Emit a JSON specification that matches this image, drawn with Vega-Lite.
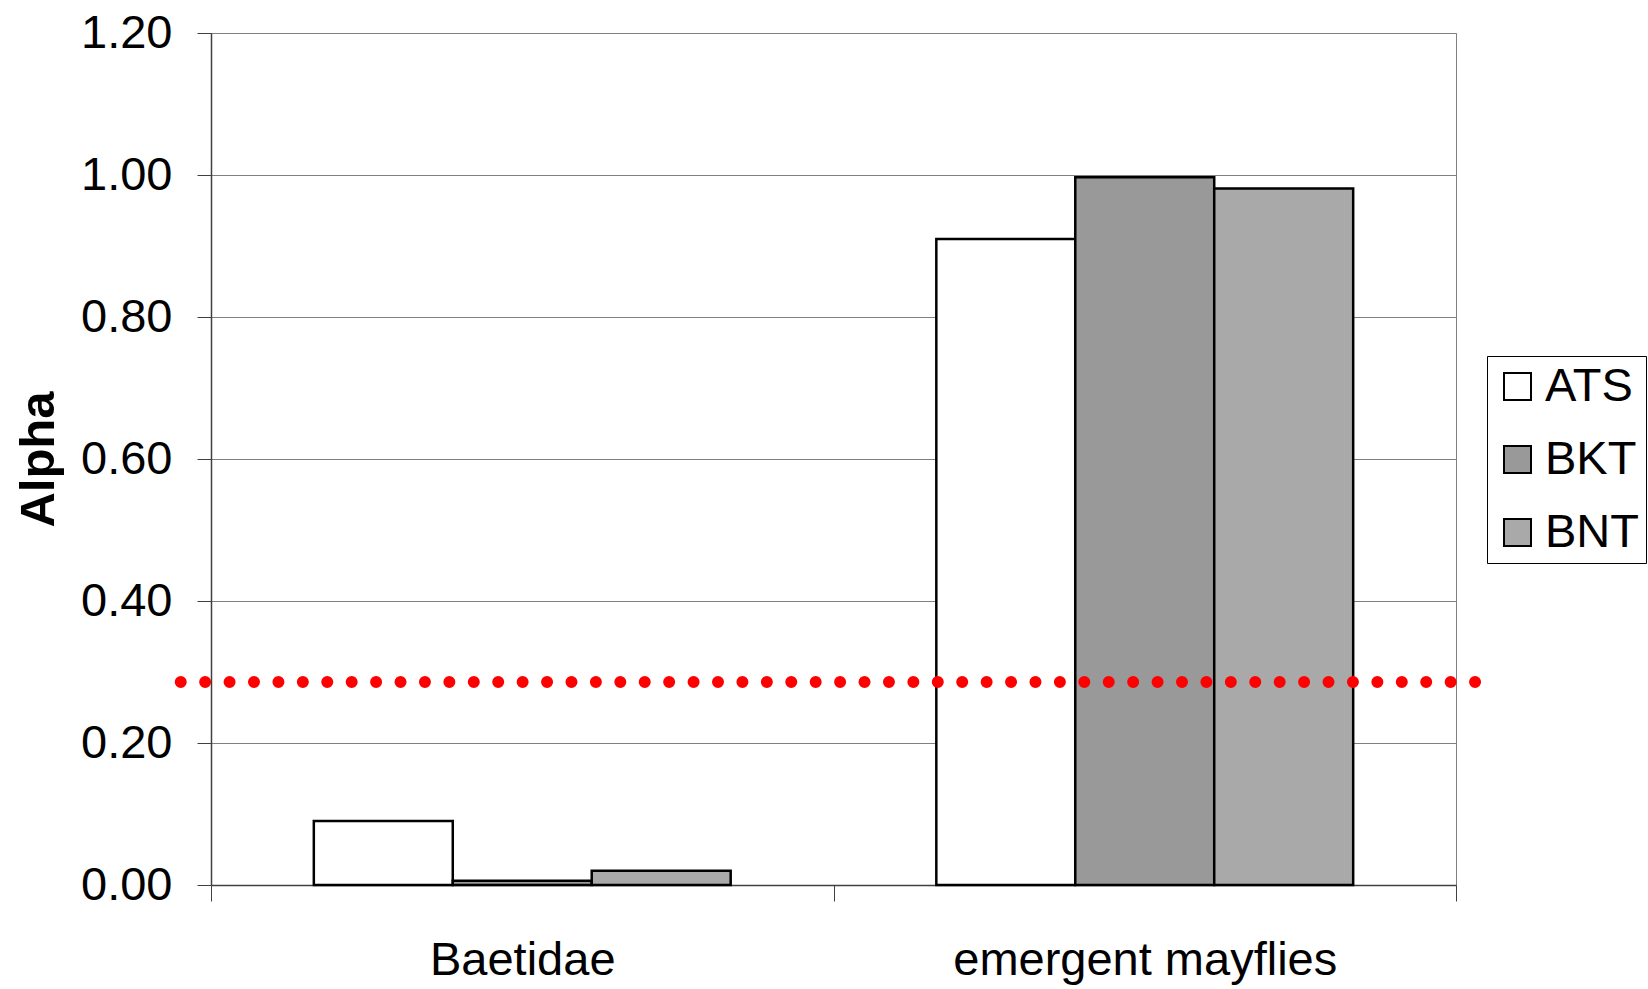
{
  "$schema": "https://vega.github.io/schema/vega-lite/v6.json",
  "width": 1245,
  "height": 852,
  "autosize": {"type": "none"},
  "padding": {"left": 211, "top": 33, "right": 192, "bottom": 104},
  "background": "#ffffff",
  "config": {
    "font": "Liberation Sans",
    "view": {"stroke": "#808080", "strokeWidth": 1},
    "axis": {"labelColor": "#000000", "titleColor": "#000000"}
  },
  "datasets": {
    "alpha": [
      {"taxon": "Baetidae", "species": "ATS", "alpha": 0.090},
      {"taxon": "Baetidae", "species": "BKT", "alpha": 0.006},
      {"taxon": "Baetidae", "species": "BNT", "alpha": 0.020},
      {"taxon": "emergent mayflies", "species": "ATS", "alpha": 0.910},
      {"taxon": "emergent mayflies", "species": "BKT", "alpha": 0.997},
      {"taxon": "emergent mayflies", "species": "BNT", "alpha": 0.981}
    ],
    "threshold": [{"alpha": 0.286}]
  },
  "resolve": {"scale": {"x": "independent"}},
  "layer": [
    {
      "data": {"name": "alpha"},
      "mark": {"type": "bar", "stroke": "#000000", "strokeWidth": 2.5},
      "encoding": {
        "x": {
          "field": "taxon",
          "type": "nominal",
          "sort": null,
          "scale": {"paddingInner": 0, "paddingOuter": 0},
          "axis": {
            "title": null,
            "labelAngle": 0,
            "labelFontSize": 47,
            "labelLimit": 0,
            "labelPadding": 36,
            "tickBand": "extent",
            "tickSize": 16,
            "tickColor": "#404040",
            "domainColor": "#404040",
            "domainWidth": 1.5
          }
        },
        "xOffset": {
          "field": "species",
          "type": "nominal",
          "sort": ["ATS", "BKT", "BNT"],
          "scale": {"paddingInner": 0, "paddingOuter": 0.74}
        },
        "y": {
          "field": "alpha",
          "type": "quantitative",
          "scale": {"domain": [0, 1.2], "nice": false},
          "axis": {
            "title": "Alpha",
            "values": [0, 0.2, 0.4, 0.6, 0.8, 1.0, 1.2],
            "format": ".2f",
            "labelFontSize": 47,
            "labelPadding": 25,
            "tickSize": 14,
            "tickColor": "#404040",
            "domainColor": "#404040",
            "domainWidth": 1.5,
            "grid": true,
            "gridColor": "#808080",
            "gridWidth": 1,
            "titleFontSize": 49,
            "titleFontWeight": "bold",
            "titlePadding": 17
          }
        },
        "fill": {
          "field": "species",
          "type": "nominal",
          "sort": ["ATS", "BKT", "BNT"],
          "scale": {"range": ["#ffffff", "#999999", "#a9a9a9"]},
          "legend": {
            "title": null,
            "orient": "none",
            "legendX": 1276,
            "legendY": 323,
            "strokeColor": "#000000",
            "fillColor": "#ffffff",
            "padding": 7,
            "symbolType": "square",
            "symbolSize": 729,
            "symbolStrokeColor": "#000000",
            "symbolStrokeWidth": 2,
            "symbolOpacity": 1,
            "labelFontSize": 47,
            "labelLimit": 0,
            "labelOffset": 4,
            "rowPadding": 25,
            "labelColor": "#000000"
          }
        }
      }
    },
    {
      "data": {"name": "threshold"},
      "mark": {
        "type": "rule",
        "color": "#ff0000",
        "strokeWidth": 12,
        "strokeCap": "round",
        "strokeDash": [0.001, 24.42]
      },
      "encoding": {
        "x": {
          "datum": 1.0153,
          "type": "quantitative",
          "scale": {"domain": [0, 1], "nice": false, "zero": false},
          "axis": null
        },
        "x2": {"datum": -0.0249},
        "y": {"field": "alpha", "type": "quantitative"}
      }
    }
  ]
}
